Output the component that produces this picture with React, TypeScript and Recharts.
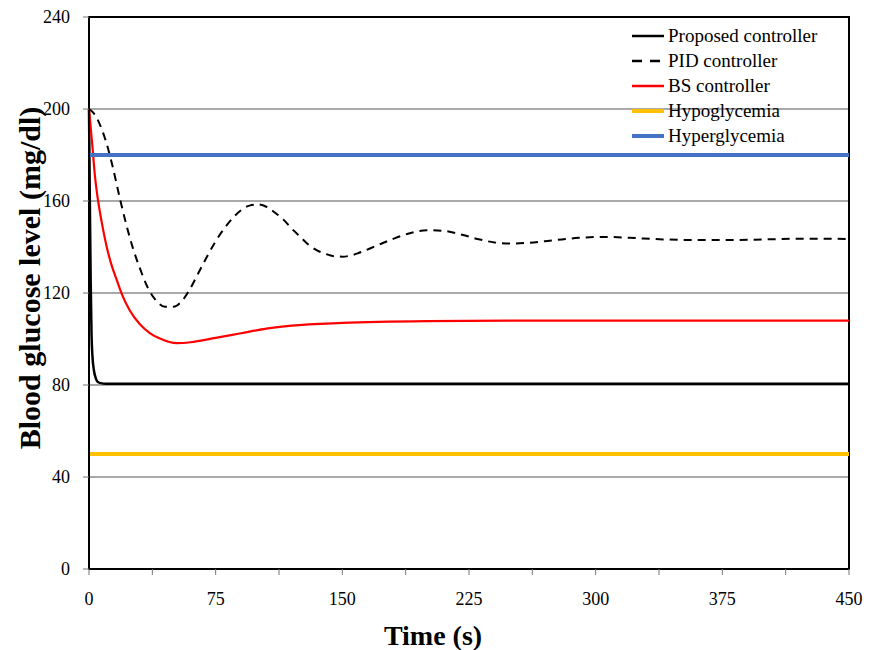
import { LineChart, Line, XAxis, YAxis, CartesianGrid, ReferenceLine, ReferenceArea, Legend } from 'recharts';

const FONT = '"Liberation Serif", "Times New Roman", serif';

const timeTicks = [0, 37.5, 75, 112.5, 150, 187.5, 225, 262.5, 300, 337.5, 375, 412.5, 450];
const glucoseTicks = [0, 40, 80, 120, 160, 200, 240];

const hypoLevel = 50;
const hyperLevel = 180;

// proposed controller
const proposedTime = [0, 0.5, 1, 1.5, 2, 3, 4, 5, 7, 10, 450];
const proposedLevel = [200, 160, 125, 102, 93, 86, 83, 81.5, 80.8, 80.5, 80.5];

// PID controller
const pidTime = [0, 3, 6, 10, 14, 18, 22, 26, 30, 35, 40, 45, 50, 55, 60, 65, 70, 75, 80, 85, 90, 95, 100, 105, 110, 115, 120, 125, 130, 135, 140, 145, 150, 155, 160, 170, 180, 190, 200, 210, 220, 230, 240, 250, 260, 270, 280, 290, 300, 310, 320, 340, 360, 380, 400, 420, 450];
const pidLevel = [200, 198, 194, 186, 175, 162, 150, 139.5, 131, 122, 116.5, 114, 114, 116.5, 122, 129, 136, 142.5, 148, 152.5, 156, 158, 158.5, 157.5, 155, 152, 148, 144.5, 141, 138.5, 137, 136, 135.8, 136.3, 137.5, 140.5, 143.5, 146, 147.3, 147, 145.5, 143.5, 142, 141.5, 141.8, 142.5, 143.3, 144, 144.3, 144.3, 144, 143.3, 143, 143, 143.3, 143.6, 143.5];

// BS controller
const bsTime = [0, 1, 2, 3.5, 5, 6.5, 8.5, 10.5, 13, 16.5, 20, 24, 30, 36, 42, 52, 60, 75, 90, 105, 120, 150, 200, 250, 300, 350, 400, 450];
const bsLevel = [200, 192, 184, 171, 162, 155, 147, 140, 133, 125.5, 118.5, 112.6, 106.5, 102.6, 100.2, 98.2, 98.6, 100.5, 102.5, 104.5, 105.8, 107, 107.8, 108, 108, 108, 108, 108];

const legendNames = ['Proposed controller', 'PID controller', 'BS controller', 'Hypoglycemia', 'Hyperglycemia'];
const legendColors = ['#000000', '#000000', '#ff0000', '#ffc000', '#4472c4'];

const toPoints = (ts: number[], vs: number[]) => ts.map((t, i) => ({ t, v: vs[i] }));

const proposedData = toPoints(proposedTime, proposedLevel);
const pidData = toPoints(pidTime, pidLevel);
const bsData = toPoints(bsTime, bsLevel);

const LegendBox = () => (
  <div style={{ fontFamily: FONT, fontSize: 19, color: '#000' }}>
    {legendNames.map((name, i) => (
      <div key={name} style={{ display: 'flex', alignItems: 'center', height: 25 }}>
        <svg width={33} height={8} style={{ marginRight: 3 }}>
          <line
            x1={0}
            x2={32}
            y1={4}
            y2={4}
            stroke={legendColors[i]}
            strokeWidth={i >= 3 ? 4 : 2.5}
            strokeDasharray={i === 1 ? '10 8' : undefined}
          />
        </svg>
        <span>{name}</span>
      </div>
    ))}
  </div>
);

const YTitle = ({ viewBox }: any) => {
  const cx = viewBox.x + 21;
  const cy = viewBox.y + viewBox.height / 2 - 15;
  return (
    <text
      x={cx}
      y={cy}
      transform={`rotate(-90, ${cx}, ${cy})`}
      textAnchor="middle"
      dominantBaseline="central"
      fontFamily={FONT}
      fontWeight="bold"
      fontSize={30}
      fill="#000"
    >
      Blood glucose level (mg/dl)
    </text>
  );
};

const XTitle = ({ viewBox }: any) => (
  <text
    x={viewBox.x + 344}
    y={viewBox.y + 66}
    textAnchor="middle"
    dominantBaseline="central"
    fontFamily={FONT}
    fontWeight="bold"
    fontSize={28}
    fill="#000"
  >
    Time (s)
  </text>
);

export default function App() {
  const tick = { fontFamily: FONT, fontSize: 18, fill: '#000' };
  return (
    <LineChart width={870} height={642} margin={{ top: 9, right: 29, bottom: 0, left: 0 }}>
      <CartesianGrid vertical={false} stroke="#8c8c8c" strokeWidth={1.3} />
      <XAxis
        type="number"
        dataKey="t"
        domain={[0, 450]}
        ticks={timeTicks}
        interval={0}
        tickFormatter={(v: number) => (v % 75 === 0 ? String(v) : '')}
        tick={tick}
        tickSize={6}
        tickMargin={17}
        height={81}
        axisLine={{ stroke: '#000', strokeWidth: 2 }}
        tickLine={{ stroke: '#777' }}
        label={<XTitle />}
      />
      <YAxis
        type="number"
        domain={[0, 240]}
        ticks={glucoseTicks}
        interval={0}
        tick={tick}
        tickSize={6}
        tickMargin={13}
        width={81}
        axisLine={{ stroke: '#000', strokeWidth: 2 }}
        tickLine={{ stroke: '#777' }}
        label={<YTitle />}
      />
      <Line data={proposedData} dataKey="v" type="monotone" stroke="#000" strokeWidth={2.5} dot={false} activeDot={false} isAnimationActive={false} />
      <Line data={pidData} dataKey="v" type="monotone" stroke="#000" strokeWidth={2} strokeDasharray="8 6" dot={false} activeDot={false} isAnimationActive={false} />
      <Line data={bsData} dataKey="v" type="monotone" stroke="#ff0000" strokeWidth={2.2} dot={false} activeDot={false} isAnimationActive={false} />
      <ReferenceLine y={hypoLevel} stroke="#ffc000" strokeWidth={4} />
      <ReferenceLine y={hyperLevel} stroke="#4472c4" strokeWidth={4} />
      <ReferenceArea x1={0} x2={450} y1={0} y2={240} fill="none" fillOpacity={0} stroke="#000" strokeWidth={2} />
      <Legend
        layout="vertical"
        align="center"
        verticalAlign="middle"
        content={<LegendBox />}
        wrapperStyle={{ left: 624, top: 15, width: 'auto', height: 'auto' }}
      />
    </LineChart>
  );
}
